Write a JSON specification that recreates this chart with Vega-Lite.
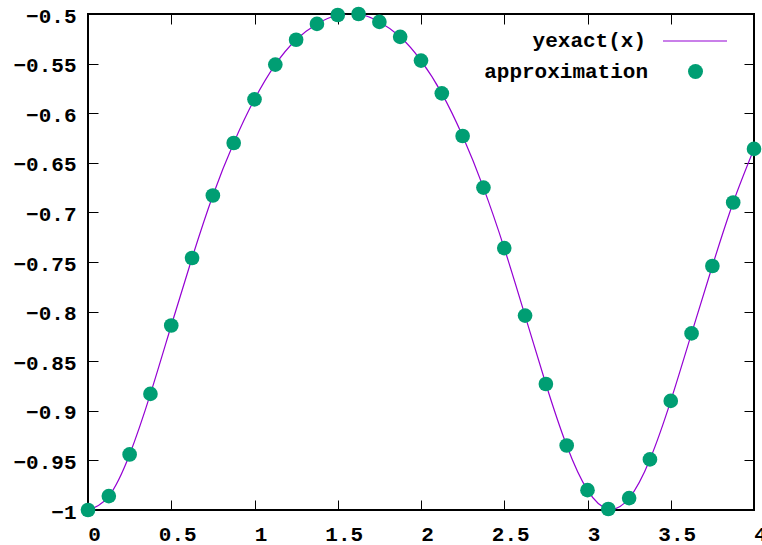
{
  "$schema": "https://vega.github.io/schema/vega-lite/v6.json",
  "width": 666,
  "height": 496,
  "autosize": {"type": "none"},
  "padding": {"left": 88, "top": 14, "right": 8, "bottom": 35},
  "background": "white",
  "config": {
    "view": {"stroke": "black", "strokeWidth": 2},
    "font": "Liberation Mono",
    "axis": {
      "labelFont": "Liberation Mono",
      "labelFontWeight": "bold",
      "labelFontSize": 21,
      "labelColor": "black",
      "domain": false,
      "grid": false,
      "tickColor": "black",
      "tickWidth": 1,
      "tickSize": -10,
      "title": null
    },
    "legend": {
      "labelFont": "Liberation Mono",
      "labelFontWeight": "bold",
      "labelFontSize": 21,
      "labelColor": "black",
      "labelLimit": 400,
      "padding": 0,
      "title": null
    }
  },
  "datasets": {
    "approx": [
      {"x": 0, "y": -1.0, "series": "approximation"},
      {"x": 0.125, "y": -0.986, "series": "approximation"},
      {"x": 0.25, "y": -0.944, "series": "approximation"},
      {"x": 0.375, "y": -0.883, "series": "approximation"},
      {"x": 0.5, "y": -0.814, "series": "approximation"},
      {"x": 0.625, "y": -0.746, "series": "approximation"},
      {"x": 0.75, "y": -0.683, "series": "approximation"},
      {"x": 0.875, "y": -0.63, "series": "approximation"},
      {"x": 1.0, "y": -0.586, "series": "approximation"},
      {"x": 1.125, "y": -0.551, "series": "approximation"},
      {"x": 1.25, "y": -0.526, "series": "approximation"},
      {"x": 1.375, "y": -0.51, "series": "approximation"},
      {"x": 1.5, "y": -0.501, "series": "approximation"},
      {"x": 1.625, "y": -0.5, "series": "approximation"},
      {"x": 1.75, "y": -0.508, "series": "approximation"},
      {"x": 1.875, "y": -0.523, "series": "approximation"},
      {"x": 2.0, "y": -0.547, "series": "approximation"},
      {"x": 2.125, "y": -0.58, "series": "approximation"},
      {"x": 2.25, "y": -0.623, "series": "approximation"},
      {"x": 2.375, "y": -0.675, "series": "approximation"},
      {"x": 2.5, "y": -0.736, "series": "approximation"},
      {"x": 2.625, "y": -0.804, "series": "approximation"},
      {"x": 2.75, "y": -0.873, "series": "approximation"},
      {"x": 2.875, "y": -0.935, "series": "approximation"},
      {"x": 3.0, "y": -0.98, "series": "approximation"},
      {"x": 3.125, "y": -0.999, "series": "approximation"},
      {"x": 3.25, "y": -0.988, "series": "approximation"},
      {"x": 3.375, "y": -0.949, "series": "approximation"},
      {"x": 3.5, "y": -0.89, "series": "approximation"},
      {"x": 3.625, "y": -0.822, "series": "approximation"},
      {"x": 3.75, "y": -0.754, "series": "approximation"},
      {"x": 3.875, "y": -0.69, "series": "approximation"},
      {"x": 4.0, "y": -0.636, "series": "approximation"}
    ],
    "exact": [
      {"x": 0, "y": -1.0, "series": "yexact(x)"},
      {"x": 0.125, "y": -0.986, "series": "yexact(x)"},
      {"x": 0.25, "y": -0.944, "series": "yexact(x)"},
      {"x": 0.375, "y": -0.883, "series": "yexact(x)"},
      {"x": 0.5, "y": -0.814, "series": "yexact(x)"},
      {"x": 0.625, "y": -0.746, "series": "yexact(x)"},
      {"x": 0.75, "y": -0.683, "series": "yexact(x)"},
      {"x": 0.875, "y": -0.63, "series": "yexact(x)"},
      {"x": 1.0, "y": -0.586, "series": "yexact(x)"},
      {"x": 1.125, "y": -0.551, "series": "yexact(x)"},
      {"x": 1.25, "y": -0.526, "series": "yexact(x)"},
      {"x": 1.375, "y": -0.51, "series": "yexact(x)"},
      {"x": 1.5, "y": -0.501, "series": "yexact(x)"},
      {"x": 1.625, "y": -0.5, "series": "yexact(x)"},
      {"x": 1.75, "y": -0.508, "series": "yexact(x)"},
      {"x": 1.875, "y": -0.523, "series": "yexact(x)"},
      {"x": 2.0, "y": -0.547, "series": "yexact(x)"},
      {"x": 2.125, "y": -0.58, "series": "yexact(x)"},
      {"x": 2.25, "y": -0.623, "series": "yexact(x)"},
      {"x": 2.375, "y": -0.675, "series": "yexact(x)"},
      {"x": 2.5, "y": -0.736, "series": "yexact(x)"},
      {"x": 2.625, "y": -0.804, "series": "yexact(x)"},
      {"x": 2.75, "y": -0.873, "series": "yexact(x)"},
      {"x": 2.875, "y": -0.935, "series": "yexact(x)"},
      {"x": 3.0, "y": -0.98, "series": "yexact(x)"},
      {"x": 3.125, "y": -0.999, "series": "yexact(x)"},
      {"x": 3.25, "y": -0.988, "series": "yexact(x)"},
      {"x": 3.375, "y": -0.949, "series": "yexact(x)"},
      {"x": 3.5, "y": -0.89, "series": "yexact(x)"},
      {"x": 3.625, "y": -0.822, "series": "yexact(x)"},
      {"x": 3.75, "y": -0.754, "series": "yexact(x)"},
      {"x": 3.875, "y": -0.69, "series": "yexact(x)"},
      {"x": 4.0, "y": -0.636, "series": "yexact(x)"}
    ]
  },
  "layer": [
    {
      "data": {"name": "exact"},
      "mark": {"type": "line", "interpolate": "natural", "strokeWidth": 1.2, "clip": true},
      "encoding": {
        "x": {
          "field": "x", "type": "quantitative",
          "scale": {"domain": [0, 4], "nice": false, "zero": false},
          "axis": {"orient": "bottom", "values": [0, 0.5, 1, 1.5, 2, 2.5, 3, 3.5, 4], "format": ".1~f", "labelPadding": 23, "labelBaseline": "top", "labelOffset": 6, "labelFlush": false, "labelOverlap": false}
        },
        "y": {
          "field": "y", "type": "quantitative",
          "scale": {"domain": [-1, -0.5], "nice": false, "zero": false},
          "axis": {"orient": "left", "values": [-1, -0.95, -0.9, -0.85, -0.8, -0.75, -0.7, -0.65, -0.6, -0.55, -0.5], "format": ".2~f", "labelPadding": 22, "labelOffset": 2, "labelFlush": false, "labelOverlap": false}
        },
        "stroke": {
          "field": "series", "type": "nominal",
          "scale": {"domain": ["yexact(x)"], "range": ["#9400d3"]},
          "legend": {"orient": "none", "legendX": 574, "legendY": -6, "symbolType": "stroke", "symbolSize": 4096, "symbolStrokeWidth": 1.2, "labelAlign": "right", "labelOffset": -82}
        }
      }
    },
    {
      "data": {"name": "approx"},
      "mark": {"type": "circle", "size": 215, "opacity": 1, "clip": false},
      "encoding": {
        "x": {
          "field": "x", "type": "quantitative",
          "axis": {"orient": "top", "values": [0, 0.5, 1, 1.5, 2, 2.5, 3, 3.5, 4], "labels": false}
        },
        "y": {
          "field": "y", "type": "quantitative",
          "axis": {"orient": "right", "values": [-1, -0.95, -0.9, -0.85, -0.8, -0.75, -0.7, -0.65, -0.6, -0.55, -0.5], "labels": false}
        },
        "fill": {
          "field": "series", "type": "nominal",
          "scale": {"domain": ["approximation"], "range": ["#009e73"]},
          "legend": {"orient": "none", "legendX": 597, "legendY": 47, "symbolType": "circle", "symbolSize": 225, "symbolStrokeWidth": 0, "symbolOpacity": 1, "labelAlign": "right", "labelOffset": -58}
        }
      }
    }
  ],
  "resolve": {"axis": {"x": "independent", "y": "independent"}, "legend": {"stroke": "independent", "fill": "independent"}}
}
